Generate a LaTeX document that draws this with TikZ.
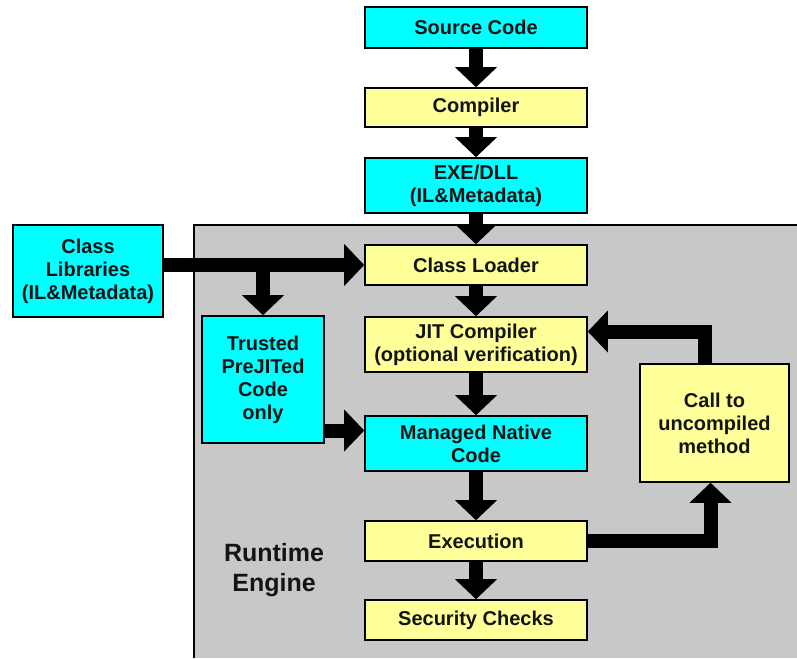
\documentclass[tikz,border=0pt]{standalone}
\usepackage{fontspec}
\setmainfont{Liberation Sans}
\usetikzlibrary{arrows.meta}
\definecolor{boxcyan}{RGB}{0,255,255}
\definecolor{boxyellow}{RGB}{255,255,153}
\definecolor{enginegray}{RGB}{200,200,200}
\definecolor{inktext}{RGB}{20,20,20}
\begin{document}
\begin{tikzpicture}[x=1pt,y=-1pt,
  box/.style={draw=black, line width=1.6pt, align=center, inner sep=0pt,
    font=\fontsize{20}{23}\selectfont\bfseries, text=inktext},
  cyanbox/.style={box, fill=boxcyan},
  yellowbox/.style={box, fill=boxyellow},
  wide/.style={minimum width=222pt},
  flow/.style={line width=14pt, -{Triangle[width=42pt,length=20pt,line width=0pt]}},
]
\useasboundingbox (0,0) rectangle (797,658);

% runtime engine area
\fill[enginegray] (194,225) rectangle (797,658);
\draw[line width=2pt] (194,658) -- (194,225) -- (797,225);
\node (rt) at (274,570) [font=\fontsize{25}{30}\selectfont\bfseries, text=inktext, align=center] {Runtime\\Engine};

% main column
\node[cyanbox, wide, minimum height=41pt] (src) at (476,27.5) {Source Code};
\node[yellowbox, wide, minimum height=39pt] (comp) at (476,107.5) {Compiler};
\node[cyanbox, wide, minimum height=55pt] (exe) at (476,185.5) {EXE/DLL\\(IL\&Metadata)};
\node[yellowbox, wide, minimum height=40pt] (loader) at (476,265) {Class Loader};
\node[yellowbox, wide, minimum height=55pt] (jit) at (476,344.5) {JIT Compiler\\(optional verification)};
\node[cyanbox, wide, minimum height=55pt] (native) at (476,443.5) {Managed Native\\Code};
\node[yellowbox, wide, minimum height=40pt] (exec) at (476,541) {Execution};
\node[yellowbox, wide, minimum height=40pt] (sec) at (476,620) {Security Checks};

% side boxes
\node[cyanbox, minimum width=150pt, minimum height=92pt] (lib) at (88,271) {Class\\Libraries\\(IL\&Metadata)};
\node[cyanbox, minimum width=122pt, minimum height=127pt] (trusted) at (263,379.5) {Trusted\\PreJITed\\Code\\only};
\node[yellowbox, minimum width=149pt, minimum height=118pt] (call) at (714.5,423) {Call to\\uncompiled\\method};

% helper points for offset connectors
\coordinate (tn) at ([yshift=13pt]native.west);
\coordinate (cj) at ([yshift=13pt]jit.east);
\coordinate (cn) at ([xshift=-10pt]call.north);
\coordinate (cs) at ([xshift=-4pt]call.south);

% connectors
\draw[flow] (src) -- (comp);
\draw[flow] (comp) -- (exe);
\draw[flow] (exe) -- (loader);
\draw[flow] (loader) -- (jit);
\draw[flow] (jit) -- (native);
\draw[flow] (native) -- (exec);
\draw[flow] (exec) -- (sec);
\draw[flow] (lib.east |- loader) -- (loader.west);
\draw[flow] (trusted.north |- loader) -- (trusted.north);
\draw[flow] (trusted.east |- tn) -- (tn);
\draw[flow] (exec.east) -| (cs);
\draw[flow] (cn) |- (cj);
\end{tikzpicture}
\end{document}
